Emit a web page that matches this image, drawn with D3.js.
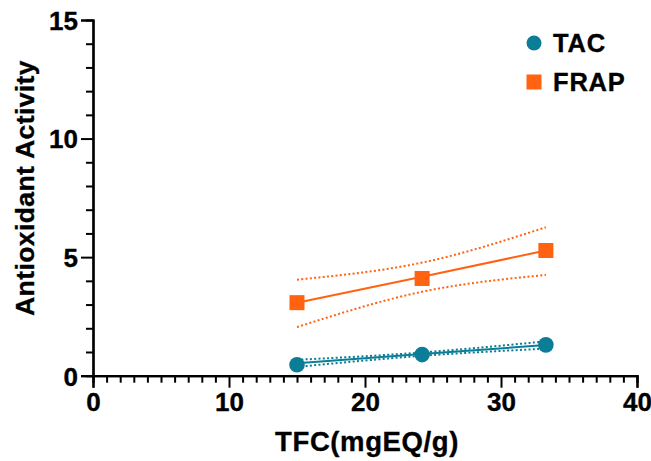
<!DOCTYPE html>
<html>
<head>
<meta charset="utf-8">
<script src="https://cdn.jsdelivr.net/npm/d3@7"></script>
<style>
  html, body { margin: 0; padding: 0; background: #fff; }
  svg { display: block; }
  text { font-family: "Liberation Sans", Arial, sans-serif; font-weight: bold; fill: #000; stroke: #000; stroke-width: 0.35px; }
</style>
</head>
<body>
<svg id="chart" width="651" height="461"></svg>
<script>
// ---- data ----
const xTicks = [0, 10, 20, 30, 40];
const yTicks = [0, 5, 10, 15];
const seriesNames = ["TAC", "FRAP"];
const tfc = [15.0, 24.2, 33.3];
const tacValues = [0.46, 0.89, 1.30];
const frapValues = [3.08, 4.10, 5.28];
// regression fit and 95% confidence band read at the same x positions
const tacFit = [0.52, 0.91, 1.29];
const tacUpper = [0.67, 0.98, 1.45];
const tacLower = [0.37, 0.84, 1.14];
const frapFit = [3.08, 4.17, 5.28];
const frapUpper = [4.05, 4.77, 6.26];
const frapLower = [2.05, 3.54, 4.25];

const colors = { TAC: "#0B7D96", FRAP: "#FF6312" };

const svg = d3.select("#chart");
const x = d3.scaleLinear().domain([0, 40]).range([93, 637]);
const y = d3.scaleLinear().domain([0, 15]).range([375.7, 20]);

// axes
const xAxis = d3.axisBottom(x).tickValues(xTicks).tickSize(12).tickPadding(5).tickFormat(d3.format("d"));
const xMinor = d3.axisBottom(x).tickValues(d3.range(0, 41, 1).filter(v => v % 10 !== 0)).tickSize(7).tickFormat("");
const yAxis = d3.axisLeft(y).tickValues(yTicks).tickSize(12).tickPadding(3).tickFormat(d3.format("d"));
const yMinor = d3.axisLeft(y).tickValues(d3.range(0, 16, 1).filter(v => v % 5 !== 0)).tickSize(7).tickFormat("");

function styleAxis(g) {
  g.selectAll(".domain").attr("stroke", "#000").attr("stroke-width", 2.2);
  g.selectAll(".tick line").attr("stroke", "#000").attr("stroke-width", 2);
  g.selectAll("text").style("font-size", "26px").attr("fill", "#000");
}

svg.append("g").attr("transform", `translate(0,${y(0)})`).call(xMinor).call(styleAxis);
svg.append("g").attr("transform", `translate(0,${y(0)})`).call(xAxis).call(styleAxis);
svg.append("g").attr("transform", `translate(${x(0)},0)`).call(yMinor).call(styleAxis);
svg.append("g").attr("transform", `translate(${x(0)},0)`).call(yAxis).call(styleAxis)
  .selectAll("text").attr("dy", "0.36em");

// axis titles
svg.append("text")
  .attr("x", 367).attr("y", 451)
  .attr("text-anchor", "middle")
  .style("font-size", "27.5px").style("letter-spacing", "0.6px")
  .text("TFC(mgEQ/g)");

svg.append("text")
  .attr("transform", "translate(34,188) rotate(-90)")
  .attr("text-anchor", "middle")
  .style("font-size", "26.5px").style("letter-spacing", "0.4px")
  .text("Antioxidant Activity");

// lines
const line = d3.line().x(d => x(d[0])).y(d => y(d[1]));
const band = d3.line().x(d => x(d[0])).y(d => y(d[1])).curve(d3.curveNatural);

function drawSeries(name, vals, fit, up, lo) {
  const c = colors[name];
  const g = svg.append("g");
  [up, lo].forEach(arr => {
    g.append("path")
      .datum(tfc.map((t, i) => [t, arr[i]]))
      .attr("d", band)
      .attr("fill", "none")
      .attr("stroke", c)
      .attr("stroke-width", 2)
      .attr("stroke-dasharray", "2,2.3");
  });
  g.append("path")
    .datum(tfc.map((t, i) => [t, fit[i]]))
    .attr("d", line)
    .attr("fill", "none")
    .attr("stroke", c)
    .attr("stroke-width", 2);
  return g;
}

const gT = drawSeries("TAC", tacValues, tacFit, tacUpper, tacLower);
const gF = drawSeries("FRAP", frapValues, frapFit, frapUpper, frapLower);

gF.selectAll("rect.pt").data(tfc).join("rect")
  .attr("class", "pt")
  .attr("x", (d) => x(d) - 7.5)
  .attr("y", (d, i) => y(frapValues[i]) - 7.5)
  .attr("width", 15).attr("height", 15)
  .attr("fill", colors.FRAP);

gT.selectAll("circle.pt").data(tfc).join("circle")
  .attr("class", "pt")
  .attr("cx", d => x(d))
  .attr("cy", (d, i) => y(tacValues[i]))
  .attr("r", 7.8)
  .attr("fill", colors.TAC);

// legend
const legend = svg.append("g");
const legY = [43, 82];
seriesNames.forEach((name, i) => {
  if (name === "TAC") {
    legend.append("circle").attr("cx", 534).attr("cy", legY[i]).attr("r", 7.5).attr("fill", colors.TAC);
  } else {
    legend.append("rect").attr("x", 526.5).attr("y", legY[i] - 7.5).attr("width", 15).attr("height", 15).attr("fill", colors.FRAP);
  }
  legend.append("text")
    .attr("x", 553).attr("y", legY[i])
    .attr("dy", "0.36em")
    .style("font-size", "25.5px").style("letter-spacing", "0.8px")
    .text(name);
});
</script>
</body>
</html>
